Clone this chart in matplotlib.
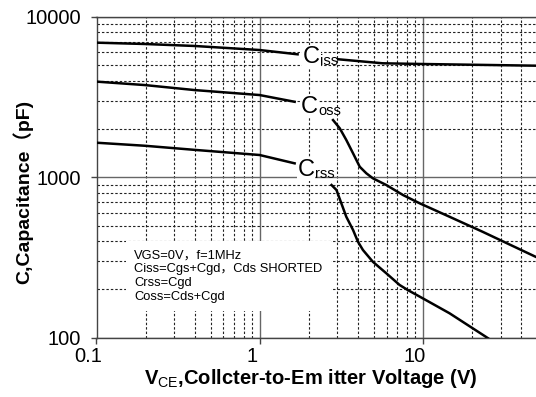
import matplotlib
matplotlib.use("Agg")
import matplotlib.pyplot as plt
import matplotlib.transforms as mtransforms
from matplotlib.ticker import FixedLocator, NullFormatter

plt.rcParams['font.family'] = ['Liberation Sans', 'Noto Sans CJK SC', 'DejaVu Sans']
plt.rcParams['mathtext.fontset'] = 'custom'
plt.rcParams['mathtext.rm'] = 'Liberation Sans'
plt.rcParams['mathtext.bf'] = 'Liberation Sans:bold'

# Ciss (split around its label)
ciss_left_v = [0.1, 0.198, 0.40, 1.0, 1.71]
ciss_left_c = [6890, 6760, 6570, 6200, 5830]
ciss_right_v = [3.03, 4.11, 5.68, 10, 49]
ciss_right_c = [5430, 5280, 5125, 5073, 4952]

# Coss
coss_left_v = [0.1, 0.198, 0.40, 1.0, 1.64]
coss_left_c = [3940, 3750, 3490, 3250, 2950]
coss_right_v = [2.82, 3.10, 3.40, 3.74, 4.11, 4.51, 4.95, 5.98, 7.56, 9.57, 14.6, 23.3, 49]
coss_right_c = [2270, 2017, 1706, 1409, 1162, 1058, 984, 894, 775, 688, 567, 457, 320]

# Crss
crss_left_v = [0.1, 0.198, 0.40, 1.0, 1.64]
crss_left_c = [1640, 1570, 1480, 1375, 1220]
crss_right_v = [2.76, 2.96, 3.17, 3.40, 3.74, 4.01, 4.30, 4.95, 5.98, 7.22, 8.11, 10, 14.6, 24.5, 26.0]
crss_right_c = [894, 832, 688, 567, 469, 396, 352, 297, 252, 213, 198, 176, 142, 101, 97]

# curve labels: (main, subscript, x, y)
curve_labels = [("C", "iss", 1.84, 5640), ("C", "oss", 1.80, 2750), ("C", "rss", 1.71, 1115)]

x_ticks = [0.1, 1, 10]
x_ticklabels = ["0.1", "1", "10"]
y_ticks = [100, 1000, 10000]
y_ticklabels = ["100", "1000", "10000"]

note = ("VGS=0V\uff0cf=1MHz\n"
        "Ciss=Cgs+Cgd\uff0cCds SHORTED\n"
        "Crss=Cgd\n"
        "Coss=Cds+Cgd")

fig = plt.figure(figsize=(5.36, 3.97), dpi=100)
ax = fig.add_axes([96.5/536, 59.3/397, 1 - 96.5/536, 321/397])
ax.set_xscale('log')
ax.set_yscale('log')
ax.set_xlim(0.1, 49.5)
ax.set_ylim(100, 10000)

# grid
minor_x = [m * d for d in (0.1, 1, 10) for m in range(2, 10) if m * d < 49.5]
minor_y = [m * d for d in (100, 1000) for m in range(2, 10)]
ax.xaxis.set_minor_locator(FixedLocator(minor_x))
ax.yaxis.set_minor_locator(FixedLocator(minor_y))
ax.xaxis.set_minor_formatter(NullFormatter())
ax.yaxis.set_minor_formatter(NullFormatter())
ax.grid(which='minor', color='#222222', linestyle=(0, (2.2, 1.8)), linewidth=0.8)
ax.grid(which='major', color='#666666', linestyle='-', linewidth=1.0)
ax.set_axisbelow(True)

ax.set_xticks(x_ticks)
ax.set_xticklabels(x_ticklabels, fontsize=14.5)
ax.set_yticks(y_ticks)
ax.set_yticklabels(y_ticklabels, fontsize=14.5)
ax.tick_params(which='major', direction='out', length=4, width=1, color='#444444')
ax.tick_params(axis='y', pad=7)
ax.tick_params(axis='x', pad=3)
ax.tick_params(which='minor', length=0)
off = mtransforms.ScaledTranslation(-8/100, 0, fig.dpi_scale_trans)
for lab in ax.get_xticklabels():
    lab.set_transform(lab.get_transform() + off)

for s in ['left', 'bottom', 'top']:
    ax.spines[s].set_color('#444444')
    ax.spines[s].set_linewidth(1.0)
ax.spines['right'].set_visible(False)

# curves
for xs, ys in [(ciss_left_v, ciss_left_c), (ciss_right_v, ciss_right_c),
               (coss_left_v, coss_left_c), (coss_right_v, coss_right_c),
               (crss_left_v, crss_left_c), (crss_right_v, crss_right_c)]:
    ax.plot(xs, ys, color='black', linewidth=1.8, zorder=3, solid_joinstyle='round')

for main, sub, x, y in curve_labels:
    ax.text(x, y, main, fontsize=17, va='center', ha='left', zorder=4,
            bbox=dict(facecolor='white', edgecolor='none', pad=0.5))
    ax.annotate(sub, (x, y), xytext=(12.5, -5.8), textcoords='offset points',
                fontsize=10.5, va='baseline', ha='left', zorder=4)

ax.text(0.086, 0.275, note, transform=ax.transAxes, fontsize=9.3, va='top', ha='left',
        linespacing=1.2, zorder=5,
        bbox=dict(facecolor='white', edgecolor='none', pad=6))

ax.set_xlabel(r"V$_{\mathrm{CE}}$,Collcter-to-Em itter Voltage (V)",
              fontsize=14.5, fontweight='bold', labelpad=3)
ax.xaxis.set_label_coords(0.488, -0.09)
ax.xaxis.label.set_va('top')
ax.set_ylabel("C,Capacitance\uff08pF)", fontsize=14, fontweight='bold')
ax.yaxis.set_label_coords(-0.143, 0.455)

fig.savefig("out.png", dpi=100)
